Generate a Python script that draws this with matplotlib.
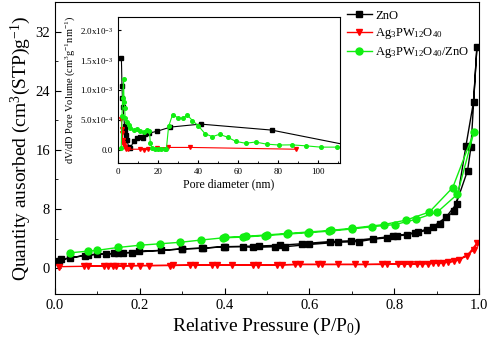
import matplotlib
matplotlib.use('Agg')
import matplotlib.pyplot as plt
from matplotlib.ticker import MultipleLocator, FuncFormatter
import math

plt.rcParams['font.family'] = 'Liberation Serif'
plt.rcParams['mathtext.fontset'] = 'custom'
plt.rcParams['mathtext.rm'] = 'Liberation Serif'
plt.rcParams['mathtext.it'] = 'Liberation Serif:italic'

# N2 isotherms (adsorption + desorption branches)
zno_p_ads = [0.01, 0.035, 0.071, 0.1, 0.12, 0.139, 0.16, 0.181, 0.198, 0.25, 0.3, 0.35, 0.4,
             0.444, 0.467, 0.519, 0.542, 0.6, 0.668, 0.717, 0.749, 0.782, 0.806, 0.829, 0.85,
             0.877, 0.908, 0.94, 0.973, 0.981, 0.995]
zno_v_ads = [1.0, 1.4, 1.7, 1.9, 1.9, 2.0, 2.1, 2.1, 2.3, 2.4, 2.6, 2.7, 2.9,
             2.9, 2.8, 2.9, 2.9, 3.2, 3.5, 3.6, 3.9, 4.1, 4.4, 4.45, 4.8,
             5.1, 6.0, 7.7, 13.2, 16.4, 29.9]
zno_p_des = [0.987, 0.969, 0.947, 0.922, 0.892, 0.857, 0.797, 0.697, 0.649, 0.582, 0.53,
             0.48, 0.398, 0.346, 0.299, 0.148, 0.079, 0.015]
zno_v_des = [22.5, 16.5, 8.7, 6.9, 5.6, 4.9, 4.3, 3.7, 3.6, 3.3, 3.1,
             3.0, 2.9, 2.7, 2.6, 2.0, 1.8, 1.2]

apw_p_ads = [0.01, 0.068, 0.116, 0.137, 0.16, 0.2, 0.271, 0.318, 0.37, 0.418, 0.468, 0.523,
             0.566, 0.621, 0.668, 0.731, 0.782, 0.822, 0.853, 0.88, 0.904, 0.928, 0.952, 0.987, 0.995]
apw_v_ads = [0.2, 0.25, 0.3, 0.3, 0.3, 0.35, 0.35, 0.4, 0.4, 0.45, 0.45, 0.45,
             0.5, 0.5, 0.5, 0.5, 0.55, 0.55, 0.6, 0.6, 0.7, 0.8, 1.1, 2.4, 3.4]
apw_p_des = [0.971, 0.94, 0.916, 0.892, 0.865, 0.837, 0.81, 0.771, 0.708, 0.629, 0.578,
             0.535, 0.479, 0.382, 0.33, 0.278, 0.222, 0.18, 0.144, 0.125, 0.078]
apw_v_des = [1.6, 0.9, 0.75, 0.65, 0.6, 0.55, 0.55, 0.5, 0.5, 0.5, 0.5,
             0.45, 0.45, 0.45, 0.4, 0.4, 0.35, 0.35, 0.3, 0.3, 0.25]

cmp_p_ads = [0.035, 0.077, 0.098, 0.149, 0.2, 0.248, 0.296, 0.344, 0.396, 0.444, 0.495,
             0.546, 0.597, 0.646, 0.7, 0.747, 0.802, 0.851, 0.902, 0.949, 0.988]
cmp_v_ads = [2.07, 2.3, 2.4, 2.8, 3.1, 3.3, 3.5, 3.8, 4.1, 4.2, 4.4,
             4.6, 4.8, 5.0, 5.3, 5.6, 5.9, 6.6, 7.6, 10.0, 18.4]
cmp_p_des = [0.938, 0.883, 0.828, 0.776, 0.7, 0.65, 0.6, 0.55, 0.5, 0.45, 0.4]
cmp_v_des = [10.9, 7.6, 6.5, 5.9, 5.4, 5.1, 4.9, 4.7, 4.5, 4.3, 4.15]

# BJH pore size distributions (inset), dV/dD in units of 1e-4
zno_d = [1.7, 2.0, 2.2, 2.5, 3.3, 3.6, 4.0, 4.5, 5.3, 6.2, 7.8, 9.5, 11.2, 12.3, 13.7,
         15.7, 19.5, 26.2, 41.3, 76.8, 125]
zno_dv = [15.3, 10.7, 8.7, 7.1, 3.9, 3.3, 2.5, 1.6, 0.55, 0.3, 1.4, 2.0, 2.1, 1.9, 2.7,
          2.8, 3.1, 3.8, 4.3, 3.3, 0.1]

apw_d = [1.7, 1.9, 2.1, 2.4, 2.7, 3.0, 3.5, 4.0, 5.0, 11, 13, 15.2, 19.3, 25.2, 36.2, 89]
apw_dv = [5.2, 3.4, 2.8, 1.7, 1.1, 0.8, 0.5, 0.2, 0.1, 0.1, 0.0, 0.1, 0.3, 0.4, 0.4, 0.1]

cmp_d = [1.6, 2.0, 2.3, 2.8, 3.0, 3.3, 3.6, 4.5, 5.3, 6.2, 7.8, 9.5, 11.2, 12.8, 14.5,
         15.7, 16.2, 17.0, 18.5, 20, 21.7, 23.3, 24.2, 25.3, 27.3, 30.2, 32.5, 34.7, 37.2,
         40.2, 43.5, 47.2, 50.8, 54.8, 59, 63.8, 68.8, 74.3, 80.7, 86.8, 93.8, 101.3, 109.3]
cmp_dv = [0.3, 5.6, 8.6, 11.9, 8.0, 7.0, 5.3, 4.7, 4.2, 3.6, 3.3, 3.5, 3.1, 2.9, 3.3,
          3.1, 1.1, 0.3, 0.1, 0.1, 0.1, 0.2, 0.2, 3.9, 5.9, 5.3, 5.3, 5.8, 4.9,
          4.0, 2.7, 2.2, 2.6, 2.1, 1.4, 1.1, 1.3, 0.95, 0.8, 0.83, 0.67, 0.45, 0.45]

labels = ['ZnO', r'Ag$_3$PW$_{12}$O$_{40}$', r'Ag$_3$PW$_{12}$O$_{40}$/ZnO']
green = '#11ee11'

fig = plt.figure(figsize=(4.9, 3.47), dpi=100)
ax = fig.add_axes([0.1122, 0.1527, 0.8654, 0.8413])

ax.plot(zno_p_ads + zno_p_des, zno_v_ads + zno_v_des, '-s', color='black', lw=1,
        ms=4.5, label=labels[0])
ax.plot(apw_p_ads + apw_p_des, apw_v_ads + apw_v_des, '-v', color='red', lw=1,
        ms=5, label=labels[1])
ax.plot(cmp_p_ads + cmp_p_des, cmp_v_ads + cmp_v_des, '-o', color=green, lw=1,
        ms=5, label=labels[2])

ax.set_xlim(0, 1.0)
ax.set_ylim(-3.5, 36)
ax.xaxis.set_major_locator(MultipleLocator(0.2))
ax.xaxis.set_minor_locator(MultipleLocator(0.1))
ax.yaxis.set_major_locator(MultipleLocator(8))
ax.yaxis.set_minor_locator(MultipleLocator(4))
ax.xaxis.set_major_formatter(FuncFormatter(lambda v, p: '%.1f' % v))
ax.tick_params(which='both', direction='in', labelsize=10.5)
ax.tick_params(which='major', length=4)
ax.tick_params(which='minor', length=2.5)
ax.set_xlabel(r'Relative Pressure (P/P$_0$)', fontsize=14, labelpad=3)
ax.set_ylabel(r'Quantity ausorbed (cm$^3$(STP)g$^{-1}$)', fontsize=14, labelpad=2)

ax.legend(loc='upper right', bbox_to_anchor=(0.995, 1.0), frameon=False, fontsize=9,
          handlelength=2.0, handletextpad=0.3, labelspacing=0.35, borderaxespad=0.2)

ins = fig.add_axes([0.2408, 0.5303, 0.4531, 0.4207])
ins.plot(zno_d, [v * 1e-4 for v in zno_dv], '-s', color='black', lw=0.8, ms=2.3)
ins.plot(apw_d, [v * 1e-4 for v in apw_dv], '-v', color='red', lw=0.8, ms=2.8)
ins.plot(cmp_d, [v * 1e-4 for v in cmp_dv], '-o', color=green, lw=0.8, ms=2.6)
ins.set_xlim(0, 111)
ins.set_ylim(-2.2e-4, 2.22e-3)
ins.xaxis.set_major_locator(MultipleLocator(20))
ins.xaxis.set_minor_locator(MultipleLocator(10))
ins.yaxis.set_major_locator(MultipleLocator(5e-4))


def sci(v, pos):
    if abs(v) < 1e-9:
        return '0.0'
    e = int(math.floor(math.log10(abs(v))))
    return r'%.1fx10$^{%d}$' % (v / 10 ** e, e)


ins.yaxis.set_major_formatter(FuncFormatter(sci))
ins.tick_params(which='both', direction='in', labelsize=6.5)
ins.tick_params(which='major', length=2.5)
ins.tick_params(which='minor', length=1.5)
ins.set_xlabel('Pore diameter (nm)', fontsize=8.5, labelpad=2)
ins.set_ylabel(r'dV/dD Pore Volume (cm$^3$g$^{-1}$nm$^{-1}$)', fontsize=7.5, labelpad=2)

fig.savefig('out.png', dpi=100)
